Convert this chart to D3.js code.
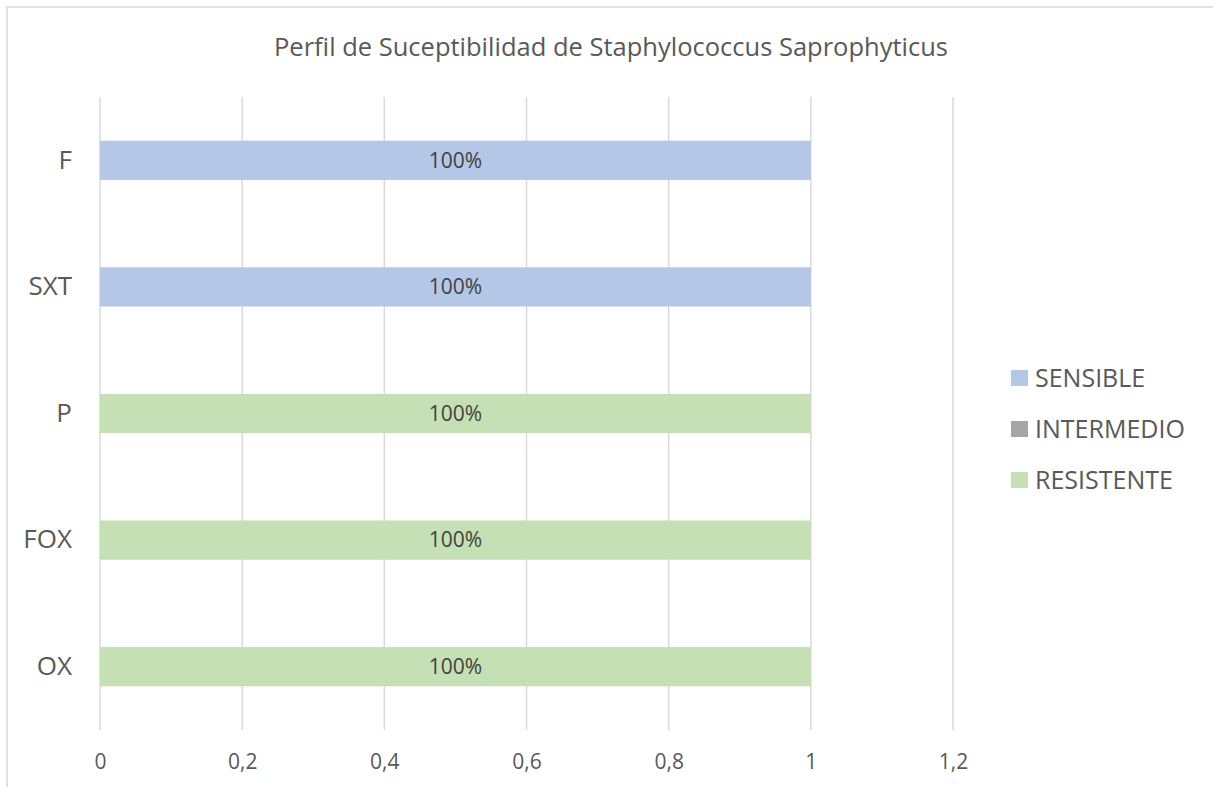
<!DOCTYPE html>
<html><head><meta charset="utf-8">
<script src="https://cdn.jsdelivr.net/npm/d3@7"></script>
<style>body{margin:0;background:#fff}svg{display:block}text{font-family:"Open Sans","Noto Sans",sans-serif;fill:#595959}</style>
</head><body><svg id="c" width="1213" height="787"></svg>
<script>
const title = "Perfil de Suceptibilidad de Staphylococcus Saprophyticus";
const categories = ["F","SXT","P","FOX","OX"];
const seriesNames = ["SENSIBLE","INTERMEDIO","RESISTENTE"];
const sensible   = [1,1,0,0,0];
const intermedio = [0,0,0,0,0];
const resistente = [0,0,1,1,1];
const xTicks = [0,0.2,0.4,0.6,0.8,1,1.2];
const colors = ["#b4c7e7","#a5a5a5","#c5e0b4"];

const svg = d3.select("#c");
// outer border
svg.append("rect").attr("x",7).attr("y",7).attr("width",1220).attr("height",800)
  .attr("fill","#fff").attr("stroke","#d9d9d9").attr("stroke-width",1.5);

svg.append("text").attr("x",611).attr("y",56).attr("text-anchor","middle")
  .style("font-size","25.5px").text(title);

const x = d3.scaleLinear().domain([0,1.2]).range([100,953]);
const y = d3.scaleBand().domain(categories).range([97,730]).paddingInner(0.69).paddingOuter(0.345);

// gridlines
svg.append("g").selectAll("line").data(xTicks).join("line")
  .attr("x1",d=>x(d)).attr("x2",d=>x(d)).attr("y1",97).attr("y2",730)
  .attr("stroke","#d9d9d9").attr("stroke-width",1.5);

const rows = categories.map((c,i)=>({cat:c,SENSIBLE:sensible[i],INTERMEDIO:intermedio[i],RESISTENTE:resistente[i]}));
const stack = d3.stack().keys(seriesNames)(rows);
stack.forEach((layer,k)=>{
  const g = svg.append("g");
  g.selectAll("rect").data(layer.filter(d=>d[1]-d[0]>0)).join("rect")
    .attr("x",d=>x(d[0])).attr("width",d=>x(d[1])-x(d[0]))
    .attr("y",d=>y(d.data.cat)).attr("height",y.bandwidth())
    .attr("fill",colors[k]);
  g.selectAll("text").data(layer.filter(d=>d[1]-d[0]>0)).join("text")
    .attr("x",d=>(x(d[0])+x(d[1]))/2).attr("y",d=>y(d.data.cat)+y.bandwidth()/2)
    .attr("dy","0.35em").attr("text-anchor","middle").style("font-size","21px").style("fill","#404040")
    .text(d=>d3.format(".0%")(d[1]-d[0]));
});

// x axis labels
const xa = svg.append("g").attr("transform","translate(0,762)")
  .call(d3.axisBottom(x).tickValues(xTicks).tickSize(0).tickPadding(0)
    .tickFormat(d=>String(d).replace(".",",")));
xa.select(".domain").remove();
xa.selectAll("text").style("font-size","21px").style("fill","#595959").attr("dy","0.35em");

// y axis labels
const ya = svg.append("g").attr("transform","translate(72,0)")
  .call(d3.axisLeft(y).tickSize(0).tickPadding(0));
ya.select(".domain").remove();
ya.selectAll("text").style("font-size","26px").style("fill","#595959");

// legend
const lg = svg.append("g");
seriesNames.forEach((s,i)=>{
  const yy = 378 + i*51;
  lg.append("rect").attr("x",1011).attr("y",yy-8).attr("width",17).attr("height",16).attr("fill",colors[i]);
  lg.append("text").attr("x",1035).attr("y",yy).attr("dy","0.35em").style("font-size","25px").text(s);
});
</script></body></html>
